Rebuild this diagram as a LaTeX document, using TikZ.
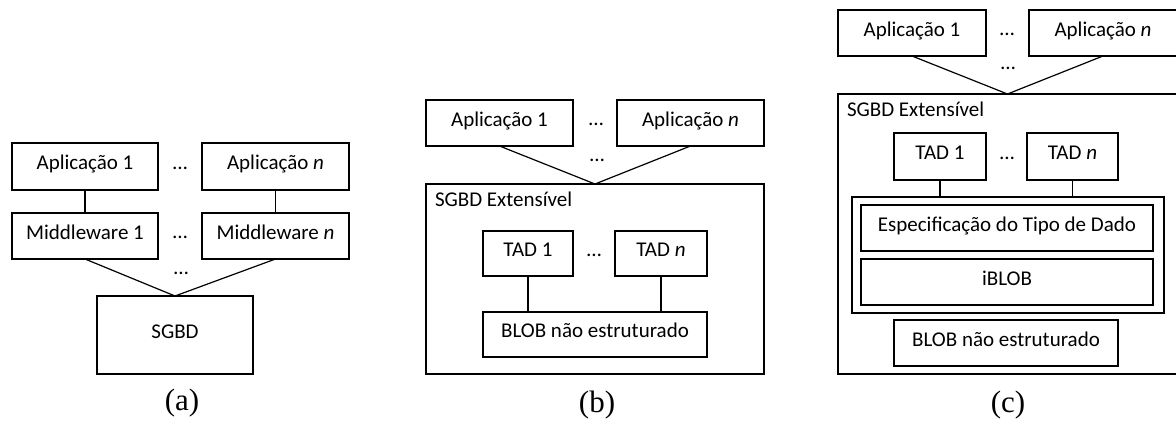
\documentclass[tikz,border=0pt]{standalone}
\usepackage{fontspec}
\setmainfont{Carlito}
\newfontfamily\capfont{Liberation Serif}
\begin{document}
\begin{tikzpicture}[x=1pt,y=-1pt,
  every node/.style={inner sep=0pt, outer sep=0pt, font=\fontsize{21}{24}\selectfont,
    text height=0.64em, text depth=0pt},
  box/.style={draw, line width=1.2pt},
  thickbox/.style={draw, line width=2.6pt},
  wire/.style={line width=1.2pt},
  caption/.style={font=\capfont\fontsize{31}{34}\selectfont, text height=, text depth=}
]
\useasboundingbox (0,0) rectangle (1176,426);

% ---------- (a) applications over middleware over a plain DBMS ----------
\node[box, minimum width=146pt, minimum height=47pt] (aA1) at (85,166.5) {Aplicação 1};
\node[box, minimum width=147pt, minimum height=47pt] (aAn) at (275.5,166.5) {Aplicação \textit{n}};
\node (aD1) at (180,166) {…};
\node[box, minimum width=146pt, minimum height=46pt] (aM1) at (85,236) {Middleware 1};
\node[box, minimum width=147pt, minimum height=46pt] (aMn) at (275.5,236) {Middleware \textit{n}};
\node (aD2) at (180,235.5) {…};
\node[box, minimum width=156pt, minimum height=78pt] (aDB) at (175,335) {SGBD};
\node (aD3) at (181,271) {…};
\draw[wire] (aA1) -- (aM1);
\draw[wire] (aAn) -- (aMn);
\draw[wire] (aM1.south) -- (aDB.north) -- (aMn.south);
\node[caption] (capA) at (182,403) {(a)};

% ---------- (b) extensible DBMS with abstract data types ----------
\node[box, minimum width=147pt, minimum height=46pt] (bA1) at (499.5,123) {Aplicação 1};
\node[box, minimum width=147pt, minimum height=46pt] (bAn) at (690.5,123) {Aplicação \textit{n}};
\node (bD1) at (596,122.5) {…};
\node[box, minimum width=338pt, minimum height=190pt] (bDB) at (595,279) {};
\node (bD2) at (597,158.5) {…};
\draw[wire] (bA1.south) -- (bDB.north) -- (bAn.south);
\node[anchor=west] (bLbl) at (435,203) {SGBD Extensível};
\node[box, minimum width=90pt, minimum height=45pt] (bT1) at (528,253.5) {TAD 1};
\node[box, minimum width=92pt, minimum height=45pt] (bTn) at (661,253.5) {TAD \textit{n}};
\node (bD3) at (594,253) {…};
\node[box, minimum width=224pt, minimum height=45pt] (bBlob) at (595,334.5) {BLOB não estruturado};
\draw[wire] (bT1.south) -- (bT1.south |- bBlob.north);
\draw[wire] (bTn.south) -- (bTn.south |- bBlob.north);
\node[caption] (capB) at (597,405) {(b)};

% ---------- (c) extensible DBMS with iBLOB layer ----------
\node[box, minimum width=148pt, minimum height=46pt] (cA1) at (912,33) {Aplicação 1};
\node[box, minimum width=148pt, minimum height=46pt] (cAn) at (1103,33) {Aplicação \textit{n}};
\node (cD1) at (1007,32.5) {…};
\node[box, minimum width=339pt, minimum height=280pt] (cDB) at (1007.5,234) {};
\node (cD2) at (1008,66) {…};
\draw[wire] (cA1.south) -- (cDB.north) -- (cAn.south);
\node[anchor=west] (cLbl) at (847,113) {SGBD Extensível};
\node[box, minimum width=92pt, minimum height=47pt] (cT1) at (940,156.5) {TAD 1};
\node[box, minimum width=91pt, minimum height=47pt] (cTn) at (1072.5,156.5) {TAD \textit{n}};
\node (cD3) at (1007,156) {…};
\node[thickbox, minimum width=312pt, minimum height=116pt] (cIB) at (1008,255) {};
\node[box, minimum width=292pt, minimum height=46pt] (cSpec) at (1007,228) {Especificação do Tipo de Dado};
\node[box, minimum width=292pt, minimum height=46pt] (cIblob) at (1007,282) {iBLOB};
\node[box, minimum width=224pt, minimum height=46pt] (cBlob) at (1006,343) {BLOB não estruturado};
\draw[wire] (cT1.south) -- (cT1.south |- cIB.north);
\draw[wire] (cTn.south) -- (cTn.south |- cIB.north);
\node[caption] (capC) at (1008,405) {(c)};
\end{tikzpicture}
\end{document}
